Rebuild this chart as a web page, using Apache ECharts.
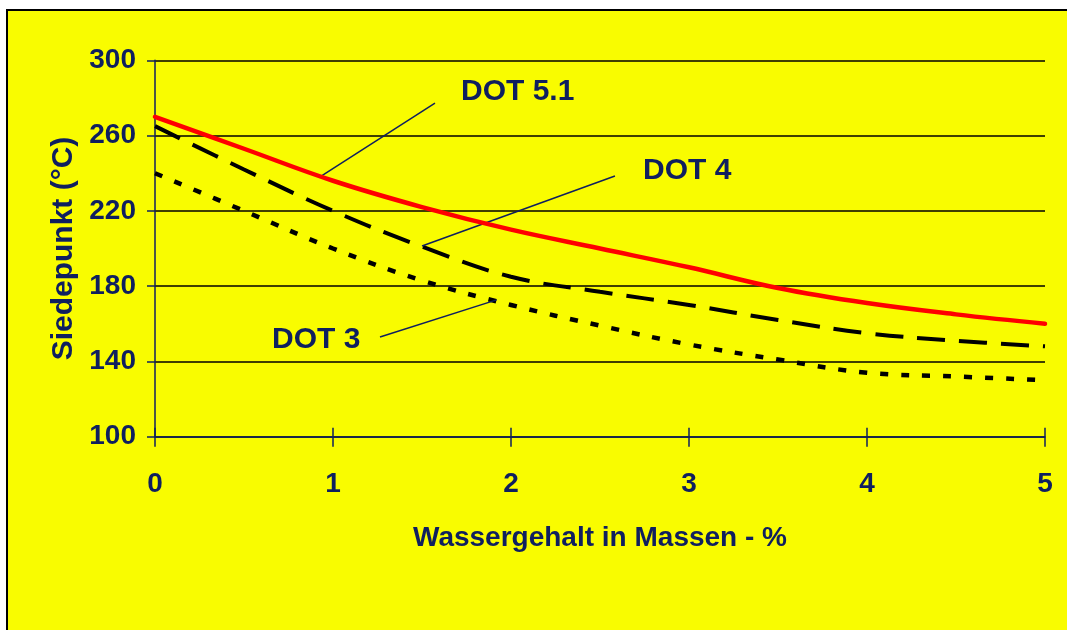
<!DOCTYPE html>
<html>
<head>
<meta charset="utf-8">
<script src="https://cdn.jsdelivr.net/npm/echarts@6/dist/echarts.min.js"></script>
<style>
  html, body { margin: 0; padding: 0; background: #ffffff; width: 1067px; height: 630px; overflow: hidden; }
  #frame { position: absolute; left: 6px; top: 9px; width: 1080px; height: 640px; background: #f9fc00; border-left: 2px solid #000; border-top: 2px solid #000; }
  #chart { position: absolute; left: 0; top: 0; width: 1067px; height: 630px; }
</style>
</head>
<body>
<div id="frame"></div>
<div id="chart"></div>
<script>
// Data
const waterContent = [0, 0.5, 1, 1.5, 2, 2.5, 3, 3.5, 4, 4.5, 5];
const dot51 = [270, 253, 236, 222, 210, 200, 190, 179, 171, 165, 160];
const dot4  = [265, 242, 220, 201, 185, 177, 170, 162, 155, 151, 148];
const dot3  = [240, 220, 200, 183, 170, 159, 149, 141, 134, 132, 130];
const xTicks = [0, 1, 2, 3, 4, 5];
const yTicks = [100, 140, 180, 220, 260, 300];
const seriesNames = ['DOT 5.1', 'DOT 4', 'DOT 3'];
const xAxisTitle = 'Wassergehalt in Massen - %';
const yAxisTitle = 'Siedepunkt (°C)';

const navy = '#0f1f5f';
const font = '"Liberation Sans", Arial, sans-serif';

function pairs(ys) { return waterContent.map((x, i) => [x, ys[i]]); }

function leader(from, to) {
  return {
    silent: true, symbol: 'none', animation: false,
    label: { show: false },
    lineStyle: { color: navy, width: 1.5, type: 'solid' },
    data: [[{ coord: from }, { coord: to }]]
  };
}

const chart = echarts.init(document.getElementById('chart'), null, { renderer: 'canvas' });
chart.setOption({
  backgroundColor: 'transparent',
  animation: false,
  grid: { left: 155, top: 60.3, right: 22, bottom: 193.3, containLabel: false },
  xAxis: [{
    type: 'value', min: xTicks[0], max: xTicks[xTicks.length - 1], interval: 1,
    name: xAxisTitle, nameLocation: 'middle', nameGap: 88,
    nameTextStyle: { color: navy, fontFamily: font, fontWeight: 'bold', fontSize: 28 },
    axisLine: { show: true, lineStyle: { color: navy, width: 1.5 } },
    axisTick: { show: true, length: 10, lineStyle: { color: navy, width: 1.5 } },
    axisLabel: { color: navy, fontFamily: font, fontWeight: 'bold', fontSize: 28, margin: 34 },
    splitLine: { show: false }
  }, {
    type: 'value', min: xTicks[0], max: xTicks[xTicks.length - 1], interval: 1,
    position: 'bottom',
    axisLine: { show: false },
    axisTick: { show: true, inside: true, length: 9, lineStyle: { color: navy, width: 1.5 } },
    axisLabel: { show: false },
    splitLine: { show: false }
  }],
  yAxis: {
    type: 'value', min: yTicks[0], max: yTicks[yTicks.length - 1], interval: 40,
    name: yAxisTitle, nameLocation: 'middle', nameGap: 76, nameRotate: 90,
    nameTextStyle: { color: navy, fontFamily: font, fontWeight: 'bold', fontSize: 30 },
    axisLine: { show: true, lineStyle: { color: navy, width: 1.5 } },
    axisTick: { show: true, length: 8, lineStyle: { color: navy, width: 1.5 } },
    axisLabel: { color: navy, fontFamily: font, fontWeight: 'bold', fontSize: 28, margin: 19 },
    splitLine: { show: true, lineStyle: { color: '#000000', width: 1.5 } }
  },
  series: [{
    name: seriesNames[0], type: 'line', xAxisIndex: 0, data: pairs(dot51), smooth: 0.4,
    showSymbol: false, lineStyle: { color: '#ff0000', width: 4.5, cap: 'round' },
    markLine: leader([0.927, 238], [1.573, 277.3]), z: 5
  }, {
    name: seriesNames[1], type: 'line', xAxisIndex: 0, data: pairs(dot4), smooth: 0.4,
    showSymbol: false, lineStyle: { color: '#000000', width: 4, type: [28, 14], cap: 'butt' },
    markLine: leader([1.5, 201.3], [2.584, 238.5]), z: 4
  }, {
    name: seriesNames[2], type: 'line', xAxisIndex: 0, data: pairs(dot3), smooth: 0.4,
    showSymbol: false, lineStyle: { color: '#000000', width: 4.5, type: [8, 13], cap: 'butt' },
    markLine: leader([1.264, 153], [1.919, 172.7]), z: 3
  }],
  graphic: [
    { type: 'text', left: 461, top: 77, style: { text: seriesNames[0], fill: navy, font: 'bold 30px ' + font } },
    { type: 'text', left: 643, top: 156, style: { text: seriesNames[1], fill: navy, font: 'bold 30px ' + font } },
    { type: 'text', left: 272, top: 325, style: { text: seriesNames[2], fill: navy, font: 'bold 30px ' + font } }
  ]
});
</script>
</body>
</html>
